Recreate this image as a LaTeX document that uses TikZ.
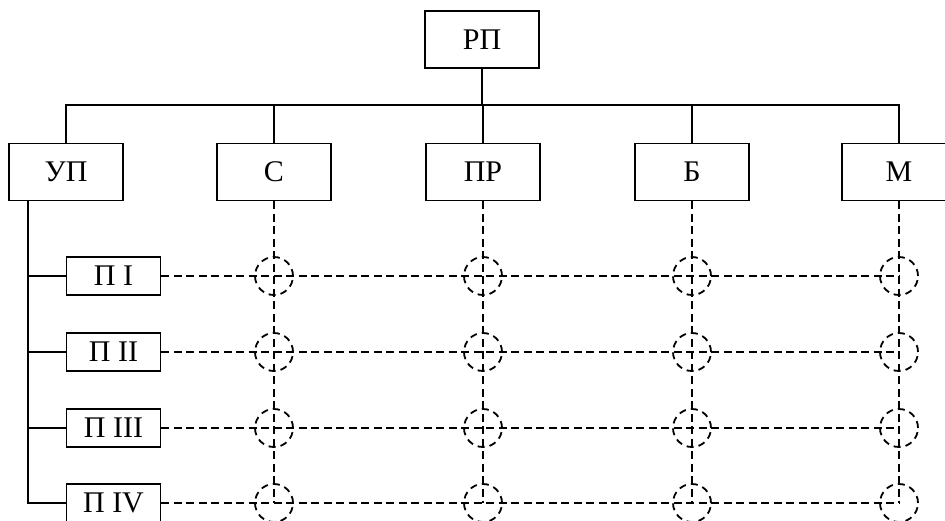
\documentclass[tikz,border=0pt]{standalone}
\usepackage{fontspec}
\setmainfont{Liberation Serif}
\begin{document}
\begin{tikzpicture}[x=1pt,y=1pt,
  every node/.style={font=\fontsize{30}{33}\selectfont},
  bigbox/.style={draw, line width=1.8pt, minimum width=114pt, minimum height=57pt, inner sep=0pt},
  rowbox/.style={draw, line width=1.8pt, minimum width=94pt, minimum height=38pt, inner sep=0pt},
  solidlink/.style={line width=1.8pt},
  dashlink/.style={line width=1.8pt, dash pattern=on 8pt off 4.5pt},
  joint/.style={circle, draw, line width=1.8pt, dash pattern=on 7pt off 5pt, minimum size=38pt, inner sep=0pt}]
\clip (0,0) rectangle (945,-520);
\useasboundingbox (0,0) rectangle (945,-520);

% top-level unit
\node[bigbox] (rp) at (482,-39.5) {РП};
% second-level units
\node[bigbox] (up) at (66,-172) {УП};
\node[bigbox] (s)  at (274,-172) {С};
\node[bigbox] (pr) at (483,-172) {ПР};
\node[bigbox] (b)  at (692,-172) {Б};
\node[bigbox] (m)  at (899,-172) {М};
\coordinate (bus) at (0,-105);

% projects
\node[rowbox] (p1) at (113.5,-276) {П I};
\node[rowbox] (p2) at (113.5,-352) {П II};
\node[rowbox] (p3) at (113.5,-428) {П III};
\node[rowbox] (p4) at (113.5,-503) {П IV};
\coordinate (spine) at (28,-200);

% hierarchy lines
\draw[solidlink] (rp.south) -- (rp.south |- bus);
\draw[solidlink] (up.north) |- (m.north |- bus) -- (m.north);
\foreach \u in {s,pr,b} \draw[solidlink] (\u.north) -- (\u.north |- bus);

% project spine
\draw[solidlink] (spine) -- (spine |- p4.west) -- (p4.west);
\foreach \p in {p1,p2,p3} \draw[solidlink] (spine |- \p.west) -- (\p.west);

% matrix links
\foreach \u in {s,pr,b,m} \draw[dashlink] (\u.south) -- (\u.south |- p4.east);
\foreach \p in {p1,p2,p3,p4} \draw[dashlink] (\p.east) -- (m.south |- \p.east);
\foreach \u in {s,pr,b,m}
  \foreach \p in {p1,p2,p3,p4}
    \node[joint] (j-\u-\p) at (\u.south |- \p.east) {};
\end{tikzpicture}
\end{document}
